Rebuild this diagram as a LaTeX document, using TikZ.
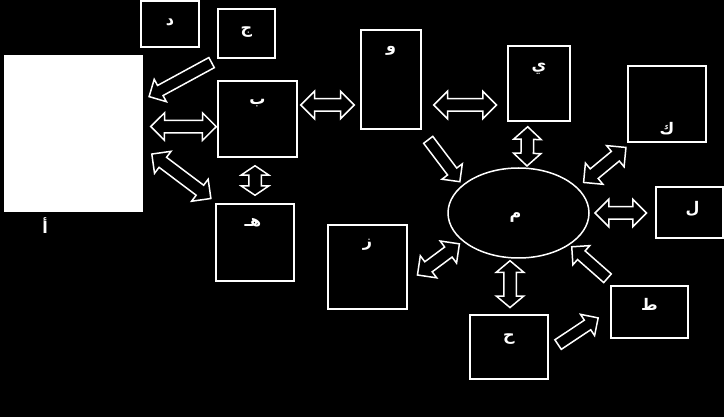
\documentclass[tikz,border=0pt]{standalone}
\usepackage{fontspec}
\usepackage{tikz}
\usetikzlibrary{calc,shapes.geometric,shapes.arrows}
\newfontfamily\arab[Script=Arabic]{DejaVu Sans}
\TeXXeTstate=1
\newcommand{\harf}[1]{\beginR #1\endR}
% block arrow with two heads, centred between the two points
\newcommand{\twoway}[3][90]{%
  \path let \p1=#2, \p2=#3, \n1={veclen(\x2-\x1,\y2-\y1)}, \n2={atan2(\y2-\y1,\x2-\x1)} in
    ({0.5*\x1+0.5*\x2},{0.5*\y1+0.5*\y2})
    node[dblarrow,double arrow tip angle=#1,minimum height=\n1,rotate=\n2] {};}
% block arrow with one head, tail on the first point
\newcommand{\oneway}[2]{%
  \path let \p1=#1, \p2=#2, \n1={veclen(\x2-\x1,\y2-\y1)}, \n2={atan2(\y2-\y1,\x2-\x1)} in
    #1 node[sglarrow,anchor=tail,minimum height=\n1,rotate=\n2] {};}

\begin{document}
\begin{tikzpicture}[x=1pt,y=-1pt,
  box/.style={rectangle,draw=white,line width=1.5pt,inner sep=0pt},
  oval/.style={ellipse,draw=white,line width=1.5pt,inner sep=0pt},
  lbl/.style={text=white,anchor=center,inner sep=0pt,font=\arab\bfseries\fontsize{16}{18}\selectfont},
  dblarrow/.style={double arrow,draw=white,fill=black,line width=1.5pt,inner xsep=0pt,inner ysep=5.5pt,
    double arrow head extend=7.5pt},
  sglarrow/.style={single arrow,draw=white,fill=black,line width=1.5pt,inner xsep=0pt,inner ysep=5pt,
    single arrow head extend=7pt}
]
\useasboundingbox (0,0) rectangle (724,417);
\fill[black] (0,0) rectangle (724,417);

\node[box,fill=white,minimum width=137pt,minimum height=155pt,
  label={[lbl,xshift=-28.5pt,yshift=-14pt]270:\harf{أ}}] (alif) at (73.5,133.5) {};
\node[box,minimum width=58pt,minimum height=46pt,label={[lbl,yshift=-22pt]90:\harf{د}}] (dal) at (170,24) {};
\node[box,minimum width=57pt,minimum height=49pt,label={[lbl,yshift=-24.3pt]90:\harf{ج}}] (jim) at (246.5,33.5) {};
\node[box,minimum width=79pt,minimum height=76pt,label={[lbl,yshift=-22.5pt]90:\harf{ب}}] (ba) at (257.5,119) {};
\node[box,minimum width=78pt,minimum height=77pt,label={[lbl,xshift=-2pt,yshift=-19pt]90:\harf{هـ}}] (ha) at (255,242.5) {};
\node[box,minimum width=60pt,minimum height=99pt,label={[lbl,yshift=-22pt]90:\harf{و}}] (waw) at (391,79.5) {};
\node[box,minimum width=62pt,minimum height=75pt,label={[lbl,yshift=-24pt]90:\harf{ي}}] (ya) at (539,83.5) {};
\node[box,minimum width=78pt,minimum height=76pt,label={[lbl,yshift=14pt]270:\harf{ك}}] (kaf) at (667,104) {};
\node[box,minimum width=67pt,minimum height=51pt,label={[lbl,xshift=3pt,yshift=-23pt]90:\harf{ل}}] (lam) at (689.5,212.5) {};
\node[oval,minimum width=141pt,minimum height=90pt,label={[lbl,xshift=-3pt,yshift=-50pt]90:\harf{م}}] (mim) at (518.5,213) {};
\node[box,minimum width=79pt,minimum height=84pt,label={[lbl,yshift=-21pt]90:\harf{ز}}] (zay) at (367.5,267) {};
\node[box,minimum width=78pt,minimum height=64pt,label={[lbl,yshift=-25pt]90:\harf{ح}}] (hha) at (509,347) {};
\node[box,minimum width=77pt,minimum height=52pt,label={[lbl,yshift=-19pt]90:\harf{ط}}] (tta) at (649.5,312) {};

\oneway{([shift={(-5,3.5)}]jim.south west)}{([shift={(7,41)}]alif.north east)}
\twoway{([shift={(8,-7)}]alif.east)}{([shift={(-1,7.7)}]ba.west)}
\twoway{([shift={(9,20.5)}]alif.east)}{([shift={(-4.3,-4.7)}]ha.north west)}
\twoway[112]{([shift={(-2.5,8)}]ba.south)}{([shift={(0,-8)}]ha.north)}
\twoway{([shift={(3,-14)}]ba.east)}{([shift={(-6,25.5)}]waw.west)}
\twoway{([shift={(12,25.5)}]waw.east)}{([shift={(-10.7,21.5)}]ya.west)}
\oneway{([shift={(6,9.5)}]waw.south east)}{([shift={(-8.7,0.5)}]mim.north west)}
\twoway[95]{([shift={(-11.3,5)}]ya.south)}{([shift={(8.5,-1.3)}]mim.north)}
\twoway{([shift={(14.7,1.8)}]mim.north east)}{([shift={(-1.3,4.7)}]kaf.south west)}
\twoway{([shift={(5.3,0)}]mim.east)}{([shift={(-8.7,0.5)}]lam.west)}
\oneway{([shift={(-2.2,-6.5)}]tta.north west)}{([shift={(3.4,1.9)}]mim.south east)}
\twoway[100]{([shift={(-8.5,2)}]mim.south)}{([shift={(1,-6.7)}]hha.north)}
\twoway{([shift={(9.7,8)}]zay.east)}{([shift={(-8.7,-1.5)}]mim.south west)}
\oneway{([shift={(8.7,-2)}]hha.east)}{([shift={(-12.7,6.3)}]tta.west)}
\end{tikzpicture}
\end{document}
